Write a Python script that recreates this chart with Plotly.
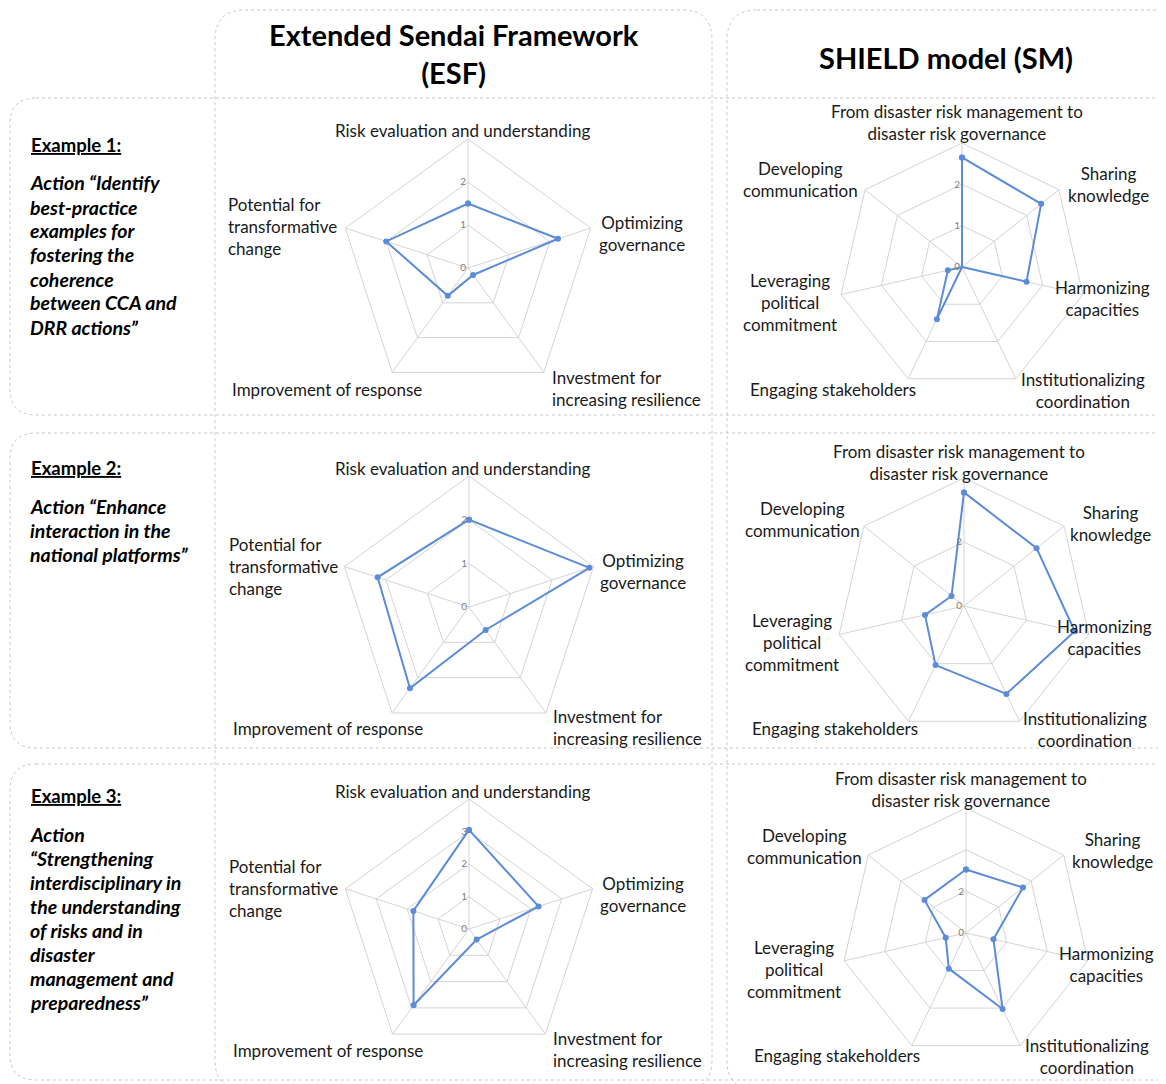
import plotly.graph_objects as go

W, H = 1166, 1084
OFF = 8  # the page body adds an 8px margin

# axes of the two radar models
esf_axes = ["Risk evaluation and understanding", "Optimizing governance",
            "Investment for increasing resilience", "Improvement of response",
            "Potential for transformative change"]
esf_labels = ["Risk evaluation and understanding", "Optimizing<br>governance",
              "Investment for<br>increasing resilience", "Improvement of response",
              "Potential for<br>transformative<br>change"]
sm_axes = ["From disaster risk management to disaster risk governance", "Sharing knowledge",
           "Harmonizing capacities", "Institutionalizing coordination",
           "Engaging stakeholders", "Leveraging political commitment", "Developing communication"]
sm_labels = ["From disaster risk management to<br>disaster risk governance", "Sharing<br>knowledge",
             "Harmonizing<br>capacities", "Institutionalizing<br>coordination",
             "Engaging stakeholders", "Leveraging<br>political<br>commitment", "Developing<br>communication"]

# scores
esf_ex1 = [1.5, 2.2, 0.2, 0.8, 2.0]
esf_ex2 = [2.0, 2.9, 0.65, 2.3, 2.2]
esf_ex3 = [3.05, 2.25, 0.4, 2.9, 1.8]
sm_ex1 = [2.65, 2.45, 1.6, 0.0, 1.4, 0.35, 0.0]
sm_ex2 = [3.55, 2.9, 3.55, 3.05, 2.05, 1.25, 0.5]
sm_ex3 = [3.05, 3.5, 1.35, 4.05, 1.9, 1.0, 2.55]

# radial scales
esf_ticks = [[0, 1, 2, 3], [0, 1, 2, 3], [0, 1, 2, 3, 4]]
esf_ticktext = [["0", "1", "2", ""], ["0", "1", "2", ""], ["0", "1", "2", "3", ""]]
sm_ticks = [[0, 1, 2, 3], [0, 2, 4], [0, 2, 4, 6]]
sm_ticktext = [["0", "1", "2", ""], ["0", "2", ""], ["0", "2", "", ""]]

examples = ["Example 1:", "Example 2:", "Example 3:"]
actions = [
    ["Action “Identify", "best-practice", "examples for", "fostering the", "coherence",
     "between CCA and", "DRR actions”"],
    ["Action “Enhance", "interaction in the", "national platforms”"],
    ["Action", "“Strengthening", "interdisciplinary in", "the understanding", "of risks and in",
     "disaster", "management and", "preparedness”"],
]

BLUE = "#5B8BD9"
GRID = "#d4d4d4"
FONT = "Lato"


def X(p):
    return (p - OFF) / W


def Y(p):
    return 1 - (p - OFF) / H


def rounded_box(x0, y0, x1, y1, r):
    return (f"M {X(x0 + r)},{Y(y0)} L {X(x1 - r)},{Y(y0)} Q {X(x1)},{Y(y0)} {X(x1)},{Y(y0 + r)} "
            f"L {X(x1)},{Y(y1 - r)} Q {X(x1)},{Y(y1)} {X(x1 - r)},{Y(y1)} "
            f"L {X(x0 + r)},{Y(y1)} Q {X(x0)},{Y(y1)} {X(x0)},{Y(y1 - r)} "
            f"L {X(x0)},{Y(y0 + r)} Q {X(x0)},{Y(y0)} {X(x0 + r)},{Y(y0)} Z")


fig = go.Figure()

# chart centres and radii (pixels)
esf_geo = [(468, 268, 129), (469, 607, 131), (469, 929, 130)]
sm_geo = [(962, 267, 124), (964, 606, 128), (966, 933, 125)]

# label offsets from chart centre: dx, dy, xanchor
esf_pos = [(-6, -138, "center"), (174, -35, "center"), (82, 120, "left"),
           (-238, 121, "left"), (-242, -41, "left")]
sm_pos = [(-5, -144, "center"), (146, -83, "center"), (140, 31, "center"),
          (121, 123, "center"), (-214, 122, "left"), (-172, 36, "center"), (-162, -87, "center")]

layout = {}
annotations = []

charts = []
for i in range(3):
    charts.append(([esf_ex1, esf_ex2, esf_ex3][i], esf_axes, esf_labels, esf_geo[i], esf_pos,
                   esf_ticks[i], esf_ticktext[i]))
    charts.append(([sm_ex1, sm_ex2, sm_ex3][i], sm_axes, sm_labels, sm_geo[i], sm_pos,
                   sm_ticks[i], sm_ticktext[i]))

for k, (vals, axes, labels, (cx, cy, R), pos, ticks, ticktext) in enumerate(charts):
    name = "polar" if k == 0 else f"polar{k + 1}"
    fig.add_trace(go.Scatterpolar(
        r=vals + vals[:1], theta=axes + axes[:1], mode="lines+markers",
        line=dict(color=BLUE, width=2), marker=dict(color=BLUE, size=6),
        subplot=name, showlegend=False))
    layout[name] = dict(
        domain=dict(x=[X(cx - R), X(cx + R)], y=[Y(cy + R), Y(cy - R)]),
        gridshape="linear", bgcolor="white",
        radialaxis=dict(range=[0, ticks[-1]], tickvals=ticks, ticktext=ticktext, angle=90,
                        tickangle=90, side="counterclockwise", showline=False, ticks="",
                        gridcolor=GRID, tickfont=dict(family=FONT, size=10, color="#808080")),
        angularaxis=dict(direction="clockwise", rotation=90, showticklabels=False, ticks="",
                         showline=True, linecolor=GRID, gridcolor=GRID, categoryarray=axes,
                         categoryorder="array"),
    )
    for lab, (dx, dy, xa) in zip(labels, pos):
        annotations.append(dict(x=X(cx + dx), y=Y(cy + dy), xref="paper", yref="paper",
                                text=lab, showarrow=False, xanchor=xa, yanchor="middle",
                                align=xa, font=dict(family=FONT, size=17, color="#1a1a1a")))

# headers
annotations.append(dict(x=X(454), y=Y(54), xref="paper", yref="paper", showarrow=False,
                        text="<b>Extended Sendai Framework<br>(ESF)</b>", xanchor="center",
                        yanchor="middle", font=dict(family=FONT, size=29, color="black")))
annotations.append(dict(x=X(946), y=Y(57), xref="paper", yref="paper", showarrow=False,
                        text="<b>SHIELD model (SM)</b>", xanchor="center", yanchor="middle",
                        font=dict(family=FONT, size=29, color="black")))

# left-hand description of each example
ex_y = [145, 468, 796]
for ex, act, y in zip(examples, actions, ex_y):
    annotations.append(dict(x=X(29), y=Y(y), xref="paper", yref="paper", showarrow=False,
                            text=f"<b><u>{ex}</u></b>", xanchor="left", yanchor="middle",
                            font=dict(family=FONT, size=18.5, color="black")))
    for j, line in enumerate(act):
        annotations.append(dict(x=X(28), y=Y(y + 38 + 24 * j), xref="paper", yref="paper",
                                showarrow=False, text=f"<b><i>{line}</i></b>", xanchor="left",
                                yanchor="middle", font=dict(family=FONT, size=19.5, color="black")))

box_line = dict(color="#c8c8c8", width=1, dash="dot")
shapes = [
    dict(type="path", path=rounded_box(10, 98, 1200, 415, 26), xref="paper", yref="paper", line=box_line),
    dict(type="path", path=rounded_box(10, 433, 1200, 748, 26), xref="paper", yref="paper", line=box_line),
    dict(type="path", path=rounded_box(10, 764, 1200, 1080, 26), xref="paper", yref="paper", line=box_line),
    dict(type="path", path=rounded_box(215, 10, 712, 1090, 30), xref="paper", yref="paper", line=box_line),
    dict(type="path", path=rounded_box(727, 10, 1220, 1090, 30), xref="paper", yref="paper", line=box_line),
]

fig.update_layout(width=W, height=H, margin=dict(l=0, r=0, t=0, b=0),
                  paper_bgcolor="white", plot_bgcolor="white",
                  annotations=annotations, shapes=shapes, **layout)

fig.write_html("out.html")
